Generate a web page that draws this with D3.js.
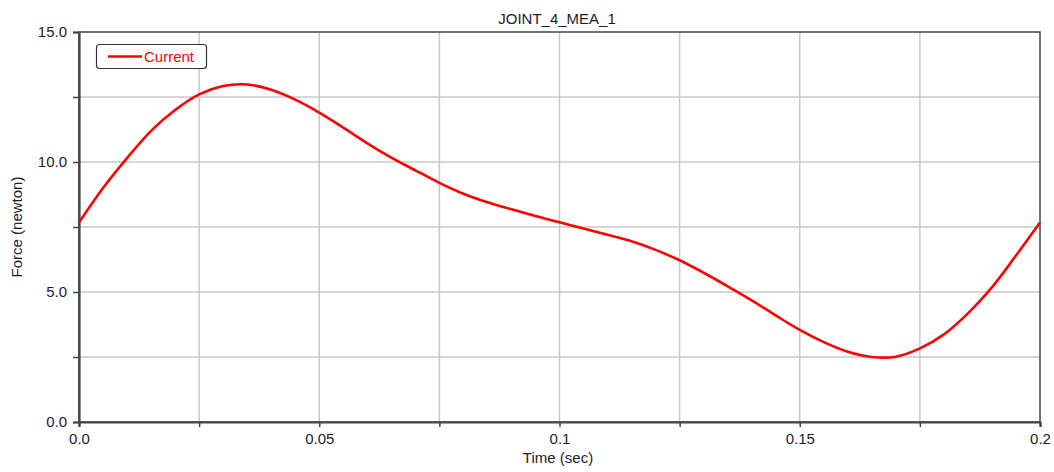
<!DOCTYPE html>
<html>
<head>
<meta charset="utf-8">
<script src="https://cdn.jsdelivr.net/npm/d3@7"></script>
<style>
  body { margin: 0; background: #fff; }
  text { font-family: "Liberation Sans", Arial, sans-serif; }
</style>
</head>
<body>
<svg id="chart"></svg>
<script>
// data
var times = [0, 0.005, 0.01, 0.015, 0.02, 0.025, 0.03, 0.035, 0.04, 0.045,
             0.05, 0.055, 0.06, 0.065, 0.07, 0.075, 0.08, 0.085, 0.09, 0.095,
             0.1, 0.105, 0.11, 0.115, 0.12, 0.125, 0.13, 0.135, 0.14, 0.145,
             0.15, 0.155, 0.16, 0.165, 0.17, 0.175, 0.18, 0.185, 0.19, 0.195, 0.2];
var force = [7.67, 9.0, 10.15, 11.2, 12.0, 12.6, 12.92, 12.98, 12.78, 12.4,
             11.9, 11.32, 10.72, 10.17, 9.68, 9.2, 8.78, 8.45, 8.18, 7.92,
             7.68, 7.44, 7.2, 6.95, 6.62, 6.22, 5.74, 5.22, 4.68, 4.1,
             3.54, 3.07, 2.7, 2.5, 2.51, 2.83, 3.37, 4.18, 5.18, 6.4, 7.67];
var xTicks = [0, 0.025, 0.05, 0.075, 0.1, 0.125, 0.15, 0.175, 0.2];
var xLabels = {0: "0.0", 0.05: "0.05", 0.1: "0.1", 0.15: "0.15", 0.2: "0.2"};
var yTicks = [0, 2.5, 5, 7.5, 10, 12.5, 15];
var yLabels = {0: "0.0", 5: "5.0", 10: "10.0", 15: "15.0"};
var seriesName = "Current";

var width = 1054, height = 472;
var margin = {left: 79, right: 14, top: 32, bottom: 50};

var svg = d3.select("#chart").attr("width", width).attr("height", height);

var x = d3.scaleLinear().domain([0, 0.2]).range([margin.left, width - margin.right]);
var y = d3.scaleLinear().domain([0, 15]).range([height - margin.bottom, margin.top]);

// grid
svg.append("g").selectAll("line").data(xTicks.slice(1, -1)).enter().append("line")
    .attr("x1", d => x(d)).attr("x2", d => x(d))
    .attr("y1", y(15)).attr("y2", y(0))
    .attr("stroke", "#c8c8c8").attr("stroke-width", 1.5);
svg.append("g").selectAll("line").data(yTicks.slice(1, -1)).enter().append("line")
    .attr("x1", x(0)).attr("x2", x(0.2))
    .attr("y1", d => y(d)).attr("y2", d => y(d))
    .attr("stroke", "#c8c8c8").attr("stroke-width", 1.5);

// frame
svg.append("rect")
    .attr("x", x(0)).attr("y", y(15))
    .attr("width", x(0.2) - x(0)).attr("height", y(0) - y(15))
    .attr("fill", "none").attr("stroke", "#444").attr("stroke-width", 1.5);

// axes
var xAxis = d3.axisBottom(x).tickValues(xTicks).tickSize(5).tickPadding(6)
    .tickFormat(d => xLabels[d] || "");
var gx = svg.append("g").attr("transform", "translate(0," + y(0) + ")").call(xAxis);
var yAxis = d3.axisLeft(y).tickValues(yTicks).tickSize(6).tickPadding(6)
    .tickFormat(d => yLabels[d] || "");
var gy = svg.append("g").attr("transform", "translate(" + x(0) + ",0)").call(yAxis);

[gx, gy].forEach(function(g) {
  g.select(".domain").attr("stroke", "#444").attr("stroke-width", 2.2);
  g.selectAll(".tick line").attr("stroke", "#444").attr("stroke-width", 1.5);
  g.selectAll(".tick text").attr("fill", "#1c1c2a")
    .style("font-size", "15px").style("font-family", "'Liberation Sans', Arial, sans-serif");
});

// curve
var line = d3.line()
    .x((d, i) => x(times[i]))
    .y(d => y(d))
    .curve(d3.curveCatmullRom.alpha(0.5));
svg.append("path").datum(force)
    .attr("d", line)
    .attr("fill", "none").attr("stroke", "#ff0000").attr("stroke-width", 2.6);

// title & labels
svg.append("text").attr("x", 557).attr("y", 24).attr("text-anchor", "middle")
    .style("font-size", "15px").attr("fill", "#1c1c2a").text("JOINT_4_MEA_1");
svg.append("text").attr("x", 558).attr("y", 463).attr("text-anchor", "middle")
    .style("font-size", "15px").attr("fill", "#1c1c2a").text("Time (sec)");
svg.append("text").attr("transform", "translate(22,227)rotate(-90)")
    .attr("text-anchor", "middle")
    .style("font-size", "15px").attr("fill", "#1c1c2a").text("Force (newton)");

// legend
var lg = svg.append("g");
lg.append("rect").attr("x", 96.5).attr("y", 44.5).attr("width", 110).attr("height", 24)
    .attr("rx", 3).attr("fill", "#fff").attr("stroke", "#333").attr("stroke-width", 1.2);
lg.append("line").attr("x1", 108).attr("x2", 142).attr("y1", 56.5).attr("y2", 56.5)
    .attr("stroke", "#ff0000").attr("stroke-width", 2.6);
lg.append("text").attr("x", 144).attr("y", 62).style("font-size", "15px")
    .attr("fill", "#ff0000").text(seriesName);
</script>
</body>
</html>
